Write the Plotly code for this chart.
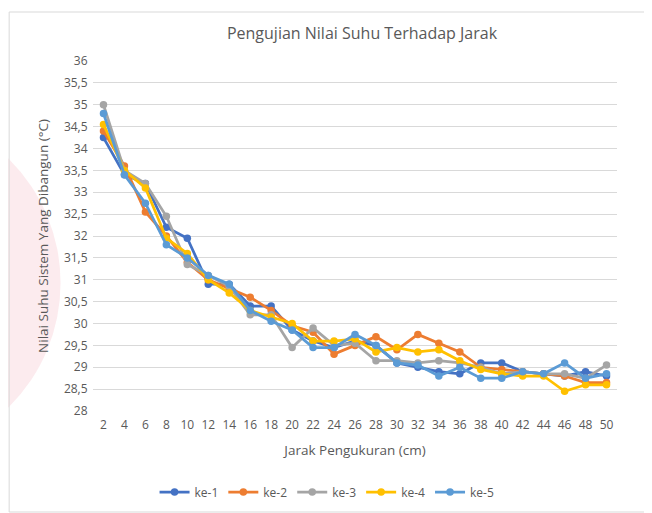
import plotly.graph_objects as go

jarak = [2, 4, 6, 8, 10, 12, 14, 16, 18, 20, 22, 24, 26, 28, 30, 32, 34, 36, 38, 40, 42, 44, 46, 48, 50]
ke_1 = [34.25, 33.4, 33.2, 32.2, 31.95, 30.9, 30.9, 30.4, 30.4, 29.85, 29.6, 29.45, 29.6, 29.5, 29.1, 29.0, 28.9, 28.85, 29.1, 29.1, 28.9, 28.85, 28.8, 28.9, 28.8]
ke_2 = [34.4, 33.6, 32.55, 32.0, 31.4, 31.0, 30.8, 30.6, 30.3, 29.95, 29.8, 29.3, 29.5, 29.7, 29.4, 29.75, 29.55, 29.35, 29.0, 28.95, 28.9, 28.85, 28.8, 28.65, 28.65]
ke_3 = [35.0, 33.5, 33.2, 32.45, 31.35, 31.1, 30.85, 30.2, 30.2, 29.45, 29.9, 29.5, 29.55, 29.15, 29.15, 29.1, 29.15, 29.1, 29.0, 28.85, 28.9, 28.85, 28.85, 28.75, 29.05]
ke_4 = [34.55, 33.5, 33.1, 31.95, 31.6, 31.0, 30.7, 30.3, 30.15, 30.0, 29.6, 29.6, 29.65, 29.35, 29.45, 29.35, 29.4, 29.15, 28.95, 28.85, 28.8, 28.8, 28.45, 28.6, 28.6]
ke_5 = [34.8, 33.4, 32.75, 31.8, 31.5, 31.1, 30.9, 30.3, 30.05, 29.85, 29.45, 29.45, 29.75, 29.5, 29.1, 29.05, 28.8, 29.0, 28.75, 28.75, 28.9, 28.85, 29.1, 28.75, 28.85]

series = [("ke-1", ke_1, "#4472C4"), ("ke-2", ke_2, "#ED7D31"), ("ke-3", ke_3, "#A5A5A5"),
          ("ke-4", ke_4, "#FFC000"), ("ke-5", ke_5, "#5B9BD5")]

y_ticks = [28 + 0.5 * i for i in range(17)]
y_tick_text = [(f"{v:g}").replace(".", ",") for v in y_ticks]

fig = go.Figure()
for name, vals, col in series:
    fig.add_trace(go.Scatter(x=jarak, y=vals, name=name, mode="lines+markers",
                             line=dict(color=col, width=2.75),
                             marker=dict(color=col, size=7.5)))

W, H = 644, 505
L, R, T, B = 84.5, 34.5, 53, 102
PW, PH = W - L - R, H - T - B

def px(x):
    return (x - L) / PW

def py(y):
    return (H - B - y) / PH

gray = "#595959"
fig.update_layout(
    width=W, height=H,
    margin=dict(l=L, r=R, t=T, b=B, autoexpand=False),
    paper_bgcolor="white", plot_bgcolor="rgba(0,0,0,0)",
    font=dict(family="Open Sans", color=gray, size=12),
    title=dict(text="Pengujian Nilai Suhu Terhadap Jarak", x=px(354), xref="paper", xanchor="center",
               y=1 - 25 / H, yanchor="middle", font=dict(size=16, color=gray, family="Open Sans")),
    xaxis=dict(range=[1, 51], tickmode="array", tickvals=jarak, ticktext=[str(v) for v in jarak],
               showgrid=False, zeroline=False, showline=False, ticks="outside", ticklen=3,
               tickcolor="rgba(0,0,0,0)",
               tickfont=dict(size=12, color=gray),
               title=dict(text="Jarak Pengukuran (cm)", font=dict(size=13.5, color=gray), standoff=13)),
    yaxis=dict(range=[28, 36], tickmode="array", tickvals=y_ticks, ticktext=y_tick_text,
               showgrid=True, gridcolor="#D9D9D9", gridwidth=1, zeroline=False, showline=False,
               tickfont=dict(size=12, color=gray), ticks="outside", ticklen=2, tickcolor="rgba(0,0,0,0)",
               title=dict(text="Nilai Suhu Sistem Yang Dibangun (°C)", font=dict(size=13.5, color=gray), standoff=12)),
    legend=dict(orientation="h", x=px(319), xanchor="center", y=py(484), yanchor="middle",
                font=dict(size=12, color=gray), itemwidth=30, bgcolor="rgba(0,0,0,0)"),
    showlegend=True,
)

# faint pink watermark at left
fig.add_shape(type="circle", xref="paper", yref="paper",
              x0=px(-300), x1=px(52),
              y0=py(450), y1=py(100),
              fillcolor="rgba(245,190,200,0.3)", line=dict(width=0), layer="below")
# chart border frame
fig.add_shape(type="rect", xref="paper", yref="paper",
              x0=px(0.5), x1=px(643),
              y0=py(504), y1=py(4),
              line=dict(color="#D9D9D9", width=1), fillcolor="rgba(0,0,0,0)", layer="below")

fig.write_html("out.html")
